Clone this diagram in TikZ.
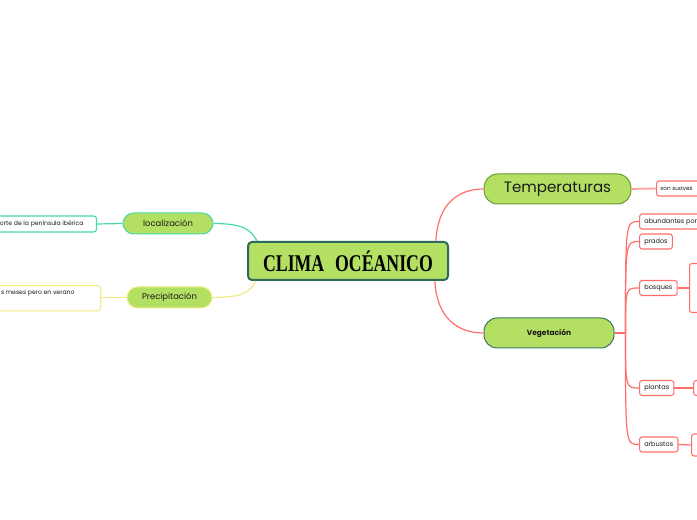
\documentclass[tikz,border=0pt]{standalone}
\usepackage{fontspec}
\setmainfont{Poppins}
\newfontfamily\cmTitleFont{Liberation Serif}
\usepackage{graphicx}
\usetikzlibrary{calc,positioning}
\definecolor{cmFill}{HTML}{B3E063}
\definecolor{cmMainEdge}{HTML}{2D6A5C}
\definecolor{cmOlive}{HTML}{6E9B33}
\definecolor{cmPine}{HTML}{3D7366}
\definecolor{cmMint}{HTML}{46D9AE}
\definecolor{cmLemon}{HTML}{F2EA82}
\definecolor{cmCoral}{HTML}{FF6F6A}
\definecolor{cmBlush}{HTML}{FFA09C}
\definecolor{cmInk}{HTML}{1A1A1A}
\tikzset{
  cm canvas/.style={fill=white},
  cm main/.style={
    rectangle, rounded corners=3pt, fill=cmFill, draw=cmMainEdge,
    line width=1.5pt, inner sep=0pt,
    minimum width=150pt, minimum height=28.5pt
  },
  cm topic/.style={
    rectangle, rounded corners=8pt, fill=cmFill, line width=.75pt,
    inner sep=0pt, text=cmInk
  },
  cm leaf/.style={
    rectangle, rounded corners=2pt, fill=white, line width=.8pt,
    inner xsep=3.6pt, inner ysep=0pt, minimum height=11.25pt,
    font=\fontsize{4.9pt}{6pt}\selectfont, text=cmInk
  },
  cm link/.style={line width=.9pt},
  cm red link/.style={cm link, draw=cmCoral}
}
\begin{document}
\begin{tikzpicture}[x=.75pt,y=-.75pt]
  \useasboundingbox[cm canvas] (0,0) rectangle (697,520);
  \clip (0,0) rectangle (697,520);

  % central idea
  \node[cm main] (main) at (348,261)
    {\cmTitleFont\bfseries\fontsize{18pt}{18pt}\selectfont
     \scalebox{.74}[1]{CLIMA\hspace{11pt}OCÉANICO}};
  \coordinate (mainNW) at ($(main.north west)!.05!(main.north east)$);
  \coordinate (mainSW) at ($(main.south west)!.045!(main.south east)$);
  \coordinate (mainNE) at ($(main.north west)!.935!(main.north east)$);
  \coordinate (mainSE) at ($(main.south west)!.93!(main.south east)$);

  % main topics
  \node[cm topic, draw=cmOlive, minimum width=110pt, minimum height=22.5pt,
    rounded corners=10pt, font=\fontsize{11.3pt}{12pt}\selectfont]
    (temp) at (557.5,189) {Temperaturas};
  \node[cm topic, draw=cmPine, minimum width=97.5pt, minimum height=22.5pt,
    rounded corners=10pt, font=\bfseries\fontsize{5.6pt}{6pt}\selectfont]
    (veg) at (549,333) {Vegetación};
  \node[cm topic, draw=cmMint, minimum width=67.5pt, minimum height=15.75pt,
    font=\fontsize{6.3pt}{7pt}\selectfont]
    (loc) at (168,223.5) {localización};
  \node[cm topic, draw=cmLemon, minimum width=63.75pt, minimum height=15.75pt,
    font=\fontsize{6.3pt}{7pt}\selectfont]
    (prec) at (169.5,297.5) {Precipitación};

  % left leaves
  \node[cm leaf, draw=cmMint, anchor=east, minimum width=82pt,
    minimum height=12pt, inner xsep=2pt, font=\fontsize{4.6pt}{6pt}\selectfont]
    (locText) at (97,224) {orte de la península ibérica};
  \node[cm leaf, draw=cmLemon, anchor=north east, minimum width=85pt,
    minimum height=0pt, inner ysep=2.5pt, text height=4pt, text depth=10pt,
    font=\fontsize{4.6pt}{6pt}\selectfont]
    (precText) at (101,285) {s meses pero en verano\hspace*{9pt}};

  % right leaves
  \node[cm leaf, draw=cmCoral, anchor=west, minimum width=40pt,
    inner xsep=2pt, align=left, font=\fontsize{4.3pt}{6pt}\selectfont]
    (suaves) at (656,188.5) {son suaves\hspace*{10pt}};
  \node[cm leaf, draw=cmCoral, anchor=west, minimum width=60pt, align=left]
    (abund) at (639,221.5) {abundantes por\hspace*{20pt}};
  \node[cm leaf, draw=cmCoral, anchor=west] (prados) at (639,241.5) {prados};
  \node[cm leaf, draw=cmCoral, anchor=west] (bosques) at (639,288) {bosques};
  \node[cm leaf, draw=cmCoral, anchor=west] (plantas) at (639,388) {plantas};
  \node[cm leaf, draw=cmCoral, anchor=west] (arbustos) at (639,444.5) {arbustos};
  \node[cm leaf, draw=cmCoral, anchor=west, minimum width=20pt,
    minimum height=36.75pt] (bosquesMore) at (689,288) {};
  \node[cm leaf, draw=cmCoral, anchor=west, minimum width=20pt]
    (plantasMore) at (693,388) {};
  \node[cm leaf, draw=cmCoral, anchor=west, minimum width=20pt,
    minimum height=16.5pt] (arbustosMore) at (691,445) {};

  % connectors
  \draw[cm link, draw=cmMint] (loc.east) .. controls +(30,0) and +(-6,-11) .. (mainNW);
  \draw[cm link, draw=cmLemon] (prec.east) .. controls +(30,0) and +(-6,11) .. (mainSW);
  \draw[cm link, draw=cmMint] (locText.east) -- (loc.west);
  \draw[cm link, draw=cmLemon] (precText.east |- prec.west) -- (prec.west);
  \draw[cm red link] (mainNE) .. controls +(2,-38) and +(-25,0) .. (temp.west);
  \draw[cm red link] (mainSE) .. controls +(2,38) and +(-25,0) .. (veg.west);
  \draw[cm link, draw=cmBlush, line width=1.3pt] (temp.east) -- (suaves.west);

  \coordinate[right=8.25pt of veg.east] (vhub);
  \draw[cm red link] (veg.east) -- (vhub);
  \foreach \leaf in {abund,prados,bosques,plantas,arbustos}
    \draw[cm red link] (vhub) .. controls (vhub |- \leaf.west) .. (\leaf.west);
  \draw[cm red link] (bosques.east) -- (bosquesMore.west);
  \draw[cm red link] (plantas.east) -- (plantasMore.west);
  \draw[cm red link] (arbustos.east) -- (arbustosMore.west);
\end{tikzpicture}
\end{document}
